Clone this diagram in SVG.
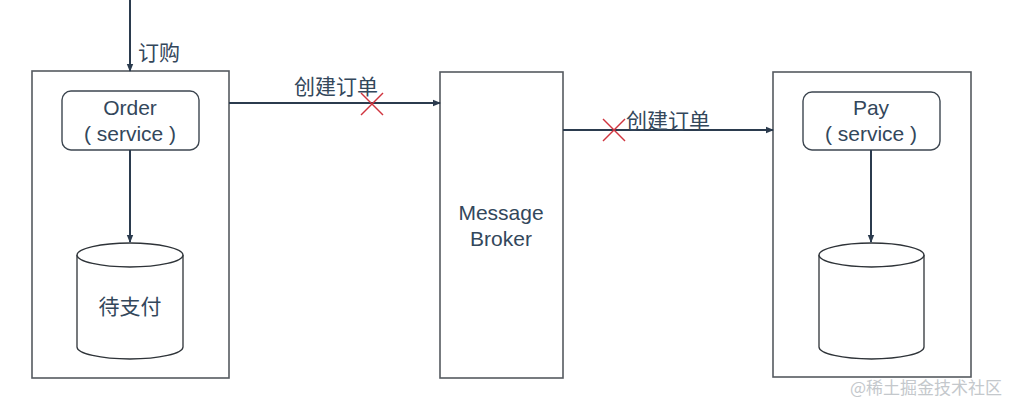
<svg xmlns="http://www.w3.org/2000/svg" width="1016" height="404" viewBox="0 0 1016 404">
<defs>
<marker id="ah" markerWidth="8" markerHeight="8" refX="7" refY="4" orient="auto" markerUnits="userSpaceOnUse">
<path d="M0,0.8 L8,4 L0,7.2 Z" fill="#2b3b4e"/>
</marker>
<style>
.box{fill:#ffffff;stroke:#555a60;stroke-width:1.6}
.rbox{fill:#ffffff;stroke:#3d4650;stroke-width:1.4}
.cyl{fill:#ffffff;stroke:#2e3338;stroke-width:1.3}
.t{font-family:"Noto Sans CJK SC","Noto Sans",sans-serif;font-size:21px;fill:#33475b;text-anchor:middle}
.e{font-family:"Liberation Sans",Arial,sans-serif;font-size:21px;fill:#33475b;text-anchor:middle}
.lbl{font-family:"Noto Sans CJK SC","Noto Sans",sans-serif;font-size:21px;fill:#33475b}
.ln{stroke:#2b3b4e;stroke-width:2;fill:none}
.x{stroke:#d0343f;stroke-width:1.4}
</style>
</defs>
<rect width="1016" height="404" fill="#ffffff"/>
<g id="order-container">
<rect class="box" x="32" y="71" width="197" height="307"/>
</g>
<g id="order-service">
<rect class="rbox" x="62" y="91" width="137" height="59" rx="9"/>
<text class="e" x="130" y="115">Order</text>
<text class="e" x="130" y="141">( service )</text>
</g>
<g id="order-db">
<path class="cyl" d="M77,255 L77,347 A53,12 0 0 0 183,347 L183,255"/>
<ellipse class="cyl" cx="130" cy="255" rx="53" ry="12"/>
<text class="t" x="130" y="314">待支付</text>
</g>
<g id="message-broker">
<rect class="box" x="440" y="72" width="123" height="306"/>
<text class="e" x="501" y="220">Message</text>
<text class="e" x="501" y="246">Broker</text>
</g>
<g id="pay-container">
<rect class="box" x="773" y="72" width="198" height="305"/>
</g>
<g id="pay-service">
<rect class="rbox" x="803" y="92" width="137" height="58" rx="9"/>
<text class="e" x="871" y="115">Pay</text>
<text class="e" x="871" y="141">( service )</text>
</g>
<g id="pay-db">
<path class="cyl" d="M819,255 L819,347 A52.5,12 0 0 0 924,347 L924,255"/>
<ellipse class="cyl" cx="871.5" cy="255" rx="52.5" ry="12"/>
</g>
<g id="connectors">
<line class="ln" x1="130" y1="0" x2="130" y2="71" marker-end="url(#ah)"/>
<text class="lbl" x="138" y="60">订购</text>
<line class="ln" x1="130" y1="150" x2="130" y2="242" marker-end="url(#ah)"/>
<line class="ln" x1="229" y1="103" x2="440" y2="103" marker-end="url(#ah)"/>
<text class="lbl" x="294" y="94">创建订单</text>
<line class="x" x1="361" y1="93" x2="383" y2="115"/>
<line class="x" x1="383" y1="93" x2="361" y2="115"/>
<line class="ln" x1="563" y1="130" x2="773" y2="130" marker-end="url(#ah)"/>
<text class="lbl" x="626" y="128">创建订单</text>
<line class="x" x1="603" y1="119" x2="625" y2="141"/>
<line class="x" x1="625" y1="119" x2="603" y2="141"/>
<line class="ln" x1="871" y1="150" x2="871" y2="242" marker-end="url(#ah)"/>
</g>
<text x="850" y="394" font-family="'Noto Sans CJK SC',sans-serif" font-size="17" fill="#c4c8cc">@稀土掘金技术社区</text>
</svg>
